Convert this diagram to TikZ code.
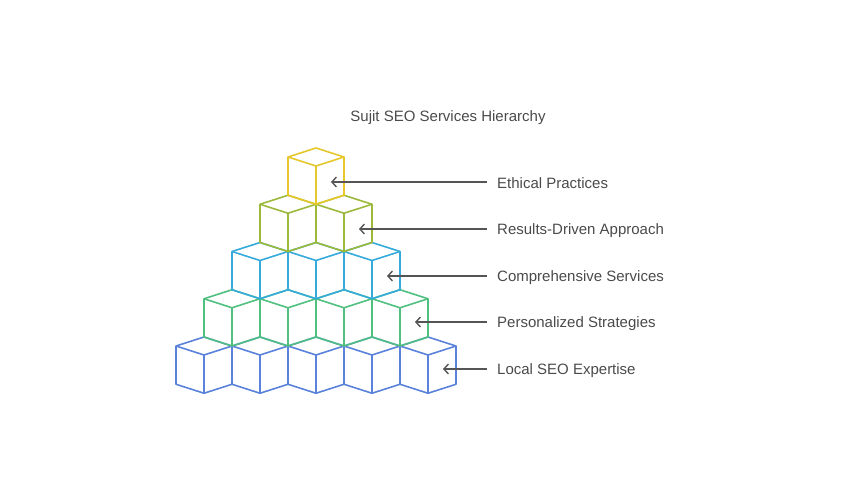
\documentclass[tikz,border=0pt]{standalone}
\usepackage{fontspec}
\setmainfont{Liberation Sans}
\usetikzlibrary{arrows.meta, positioning, calc}
\definecolor{hiText}{HTML}{4A4A4A}
\definecolor{hiArrow}{HTML}{555555}
\definecolor{hiYellow}{HTML}{E6C72C}
\definecolor{hiOlive}{HTML}{9CB93C}
\definecolor{hiCyan}{HTML}{35AADB}
\definecolor{hiGreen}{HTML}{4FC07F}
\definecolor{hiBlue}{HTML}{5A82DA}
\tikzset{
  cube/.style={draw=#1, line width=1.6pt, line join=round},
  tag/.style={anchor=west, inner sep=0pt, font=\fontsize{15}{17}\selectfont, text=hiText},
  heading/.style={inner sep=0pt, font=\fontsize{15}{17}\selectfont, text=hiText},
  pointer/.style={-{Straight Barb[length=4.5pt, width=10pt]}, line width=1.4pt, hiArrow, shorten <=10pt}
}

\begin{document}
\begin{tikzpicture}[x=1pt, y=-1pt]
  \useasboundingbox (0,0) rectangle (850,500);
  \node[heading] (title) at (448,117.5) {Sujit SEO Services Hierarchy};

  % stacked cubes, bottom row first
  \foreach \r/\col in {5/hiBlue, 4/hiGreen, 3/hiCyan, 2/hiOlive, 1/hiYellow} {
    \pgfmathsetmacro\ay{148+(\r-1)*47.25}
    \foreach \k in {1,...,\r} {
      \pgfmathsetmacro\cx{316-(\r-1)*28+(\k-1)*56}
      \draw[cube=\col] (\cx,\ay) -- ++(28,9) -- ++(0,38.25) -- ++(-28,9)
        -- ++(-28,-9) -- ++(0,-38.25) -- cycle;
      \draw[cube=\col] ({\cx-28},{\ay+9}) -- ++(28,9) -- ++(28,-9)
        ({\cx},{\ay+18}) -- ++(0,38.25);
    }
  }

  % arrow targets on the right faces
  \coordinate (ethicalTip) at (331,182);
  \coordinate (resultsTip) at (359,229);
  \coordinate (servicesTip) at (387,276);
  \coordinate (strategiesTip) at (415,322);
  \coordinate (localTip) at (443,369);

  \node[tag] (ethical) at (497,183.5) {Ethical Practices};
  \node[tag] (results) at (497,230.5) {Results-Driven Approach};
  \node[tag] (services) at (497,277.5) {Comprehensive Services};
  \node[tag] (strategies) at (497,323.5) {Personalized Strategies};
  \node[tag] (local) at (497,370.5) {Local SEO Expertise};

  \draw[pointer] (ethical.west |- ethicalTip) -- (ethicalTip);
  \draw[pointer] (results.west |- resultsTip) -- (resultsTip);
  \draw[pointer] (services.west |- servicesTip) -- (servicesTip);
  \draw[pointer] (strategies.west |- strategiesTip) -- (strategiesTip);
  \draw[pointer] (local.west |- localTip) -- (localTip);
\end{tikzpicture}
\end{document}
